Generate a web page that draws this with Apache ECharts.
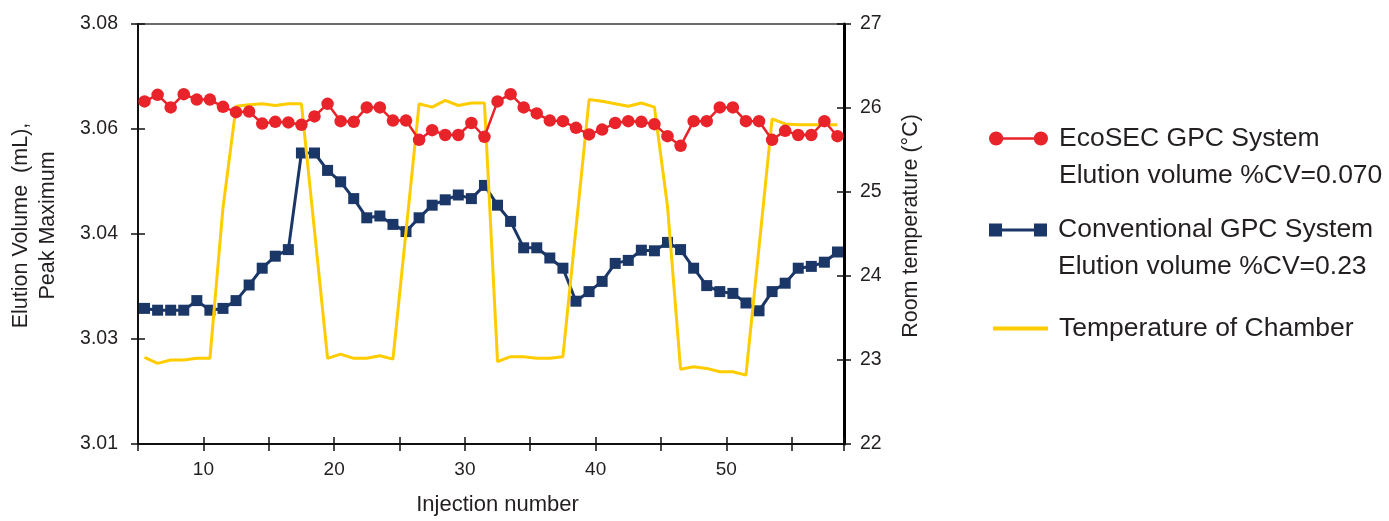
<!DOCTYPE html>
<html>
<head>
<meta charset="utf-8">
<script src="https://cdn.jsdelivr.net/npm/echarts@6/dist/echarts.min.js"></script>
<style>
html,body{margin:0;padding:0;background:#ffffff;}
#chart{width:1389px;height:521px;}
</style>
</head>
<body>
<div id="chart"></div>
<script>
// ---- data ----
const injections = [5,6,7,8,9,10,11,12,13,14,15,16,17,18,19,20,21,22,23,24,25,26,27,28,29,30,31,32,33,34,35,36,37,38,39,40,41,42,43,44,45,46,47,48,49,50,51,52,53,54,55,56,57,58];

const ecosecVolume = [
  3.0671, 3.0682, 3.0661, 3.0683, 3.0674, 3.0674, 3.0662, 3.0653, 3.0654, 3.0634,
  3.0637, 3.0636, 3.0632, 3.0646, 3.0667, 3.0638, 3.0637, 3.0661, 3.0661, 3.0639,
  3.0639, 3.0607, 3.0623, 3.0615, 3.0615, 3.0635, 3.0612, 3.0671, 3.0683, 3.0661,
  3.0651, 3.0639, 3.0638, 3.0627, 3.0616, 3.0624, 3.0635, 3.0638, 3.0637, 3.0633,
  3.0613, 3.0597, 3.0638, 3.0638, 3.0661, 3.0661, 3.0638, 3.0638, 3.0607, 3.0622,
  3.0615, 3.0615, 3.0638, 3.0613
];

const conventionalVolume = [
  3.0326, 3.0323, 3.0323, 3.0323, 3.0339, 3.0323, 3.0326, 3.0339, 3.0365, 3.0393,
  3.0413, 3.0424, 3.0585, 3.0585, 3.0556, 3.0537, 3.0509, 3.0477, 3.0480, 3.0466,
  3.0454, 3.0477, 3.0498, 3.0507, 3.0515, 3.0509, 3.0531, 3.0498, 3.0471, 3.0427,
  3.0427, 3.0410, 3.0393, 3.0338, 3.0354, 3.0371, 3.0401, 3.0406, 3.0423, 3.0422,
  3.0436, 3.0424, 3.0393, 3.0364, 3.0354, 3.0351, 3.0335, 3.0322, 3.0354, 3.0368,
  3.0393, 3.0396, 3.0403, 3.0420
];

const chamberTemperature = [
  23.03, 22.96, 23.00, 23.00, 23.02, 23.02, 24.81, 26.02, 26.04, 26.05,
  26.03, 26.05, 26.05, 24.54, 23.02, 23.07, 23.02, 23.02, 23.05, 23.01,
  24.53, 26.05, 26.01, 26.09, 26.03, 26.06, 26.06, 22.98, 23.04, 23.04,
  23.02, 23.02, 23.04, 24.57, 26.10, 26.08, 26.05, 26.02, 26.06, 26.01,
  24.83, 22.89, 22.92, 22.90, 22.86, 22.86, 22.82, 24.34, 25.87, 25.81,
  25.80, 25.80, 25.80, 25.80
];

const volumeTickLabels = ['3.01', '3.03', '3.04', '3.06', '3.08'];
const temperatureTickLabels = ['22', '23', '24', '25', '26', '27'];

const seriesNames = ['EcoSEC GPC System', 'Conventional GPC System', 'Temperature of Chamber'];
const legendLines = [
  ['', 'EcoSEC GPC System', 'Elution volume %CV=0.070'],
  ['', 'Conventional GPC System', 'Elution volume %CV=0.23'],
  ['Temperature of Chamber']
];

// ---- styling ----
const RED = '#E8232A';
const BLUE = '#1B3768';
const YELLOW = '#FFCC00';
const INK = '#231F20';
const FONT = '"Liberation Sans", Arial, sans-serif';

const VOL_MIN = 3.01, VOL_MAX = 3.08, VOL_STEP = 0.0175;

const chart = echarts.init(document.getElementById('chart'), null, {renderer: 'canvas'});

const tickEvery5 = (idx, val) => Number(val) % 5 === 0;
const labelEvery10 = (idx, val) => Number(val) % 10 === 0;

function makeLegend(i, top, left, w, h, icon) {
  return {
    show: true,
    orient: 'vertical',
    left: left,
    top: top,
    padding: 0,
    itemWidth: w,
    itemHeight: h,
    selectedMode: false,
    data: [{name: seriesNames[i], icon: icon, itemStyle: {color: [RED, BLUE, YELLOW][i], borderWidth: 0}}],
    formatter: function () { return legendLines[i].join('\n'); },
    textStyle: {fontFamily: FONT, fontSize: 26.5, lineHeight: 37, color: INK, padding: [0, 0, 0, 6]}
  };
}

const option = {
  animation: false,
  backgroundColor: '#ffffff',
  grid: {
    left: 138, right: 545, top: 24, bottom: 76,
    show: true, borderColor: '#3c3c3c', borderWidth: 1.5, backgroundColor: 'transparent'
  },
  legend: [
    makeLegend(0, 83, 989, 59, 15,
      'path://M0.5,7.5 A7,7 0 1,1 14.5,7.5 A7,7 0 1,1 0.5,7.5 Z M44.5,7.5 A7,7 0 1,1 58.5,7.5 A7,7 0 1,1 44.5,7.5 Z M7,6.3 L52,6.3 L52,8.7 L7,8.7 Z'),
    makeLegend(1, 174.5, 989, 58, 13,
      'path://M0,0 L13,0 L13,13 L0,13 Z M45,0 L58,0 L58,13 L45,13 Z M13,5 L45,5 L45,8 L13,8 Z'),
    makeLegend(2, 310, 993, 55, 4,
      'path://M0,0 L55,0 L55,4 L0,4 Z')
  ],
  xAxis: [
    {
      type: 'category',
      data: injections,
      boundaryGap: true,
      position: 'bottom',
      name: 'Injection number',
      nameLocation: 'middle',
      nameGap: 50,
      nameTextStyle: {fontFamily: FONT, fontSize: 22, color: INK, padding: [0, 0, 0, 13]},
      axisLine: {show: true, lineStyle: {color: '#111', width: 2}},
      axisTick: {show: true, inside: false, length: 7, interval: tickEvery5, lineStyle: {color: '#111', width: 1.5}},
      axisLabel: {show: true, interval: labelEvery10, margin: 16, fontFamily: FONT, fontSize: 19, color: INK, padding: [0, 13, 0, 0]},
      splitLine: {show: false}
    },
    {
      type: 'category',
      data: injections,
      boundaryGap: true,
      position: 'bottom',
      axisLine: {show: false},
      axisTick: {show: true, inside: true, length: 7, interval: tickEvery5, lineStyle: {color: '#111', width: 1.5}},
      axisLabel: {show: false},
      splitLine: {show: false}
    }
  ],
  yAxis: [
    {
      type: 'value',
      position: 'left',
      min: VOL_MIN, max: VOL_MAX, interval: VOL_STEP,
      name: 'Elution Volume  (mL),\nPeak Maximum',
      nameLocation: 'middle',
      nameRotate: 90,
      nameGap: 76,
      nameTextStyle: {fontFamily: FONT, fontSize: 21.5, lineHeight: 27, color: INK, align: 'center', padding: [0, 0, 0, 17]},
      axisLine: {show: true, lineStyle: {color: '#111', width: 2}},
      axisTick: {show: true, inside: false, length: 7, lineStyle: {color: '#111', width: 1.5}},
      axisLabel: {
        margin: 20, fontFamily: FONT, fontSize: 19.5, color: INK,
        formatter: function (v) { return volumeTickLabels[Math.round((v - VOL_MIN) / VOL_STEP)] || ''; }
      },
      splitLine: {show: false}
    },
    {
      type: 'value',
      position: 'right',
      min: 22, max: 27, interval: 1,
      name: 'Room temperature (°C)',
      nameLocation: 'middle',
      nameRotate: 90,
      nameGap: 56,
      nameTextStyle: {fontFamily: FONT, fontSize: 21.5, color: INK, padding: [0, 0, 0, 16]},
      axisLine: {show: true, lineStyle: {color: '#000', width: 3}},
      axisTick: {show: true, inside: false, length: 7, lineStyle: {color: '#111', width: 1.5}},
      axisLabel: {
        margin: 16, fontFamily: FONT, fontSize: 19.5, color: INK,
        formatter: function (v) { return temperatureTickLabels[Math.round(v - 22)] || ''; }
      },
      splitLine: {show: false}
    },
    {
      type: 'value',
      position: 'left',
      min: VOL_MIN, max: VOL_MAX, interval: VOL_STEP,
      axisLine: {show: false},
      axisTick: {show: true, inside: true, length: 7, lineStyle: {color: '#111', width: 1.5}},
      axisLabel: {show: false},
      splitLine: {show: false}
    },
    {
      type: 'value',
      position: 'right',
      min: 22, max: 27, interval: 1,
      axisLine: {show: false},
      axisTick: {show: true, inside: true, length: 7, lineStyle: {color: '#111', width: 1.5}},
      axisLabel: {show: false},
      splitLine: {show: false}
    }
  ],
  series: [
    {
      name: seriesNames[1],
      type: 'line',
      xAxisIndex: 0, yAxisIndex: 0,
      data: conventionalVolume,
      symbol: 'rect', symbolSize: 11, showSymbol: true, showAllSymbol: true,
      itemStyle: {color: BLUE},
      lineStyle: {color: BLUE, width: 3},
      z: 2
    },
    {
      name: seriesNames[2],
      type: 'line',
      xAxisIndex: 0, yAxisIndex: 1,
      data: chamberTemperature,
      symbol: 'none', showSymbol: false,
      itemStyle: {color: YELLOW},
      lineStyle: {color: YELLOW, width: 3},
      z: 3
    },
    {
      name: seriesNames[0],
      type: 'line',
      xAxisIndex: 0, yAxisIndex: 0,
      data: ecosecVolume,
      symbol: 'circle', symbolSize: 12.5, showSymbol: true, showAllSymbol: true,
      itemStyle: {color: RED},
      lineStyle: {color: RED, width: 2.5},
      z: 4
    }
  ]
};

chart.setOption(option);
</script>
</body>
</html>
